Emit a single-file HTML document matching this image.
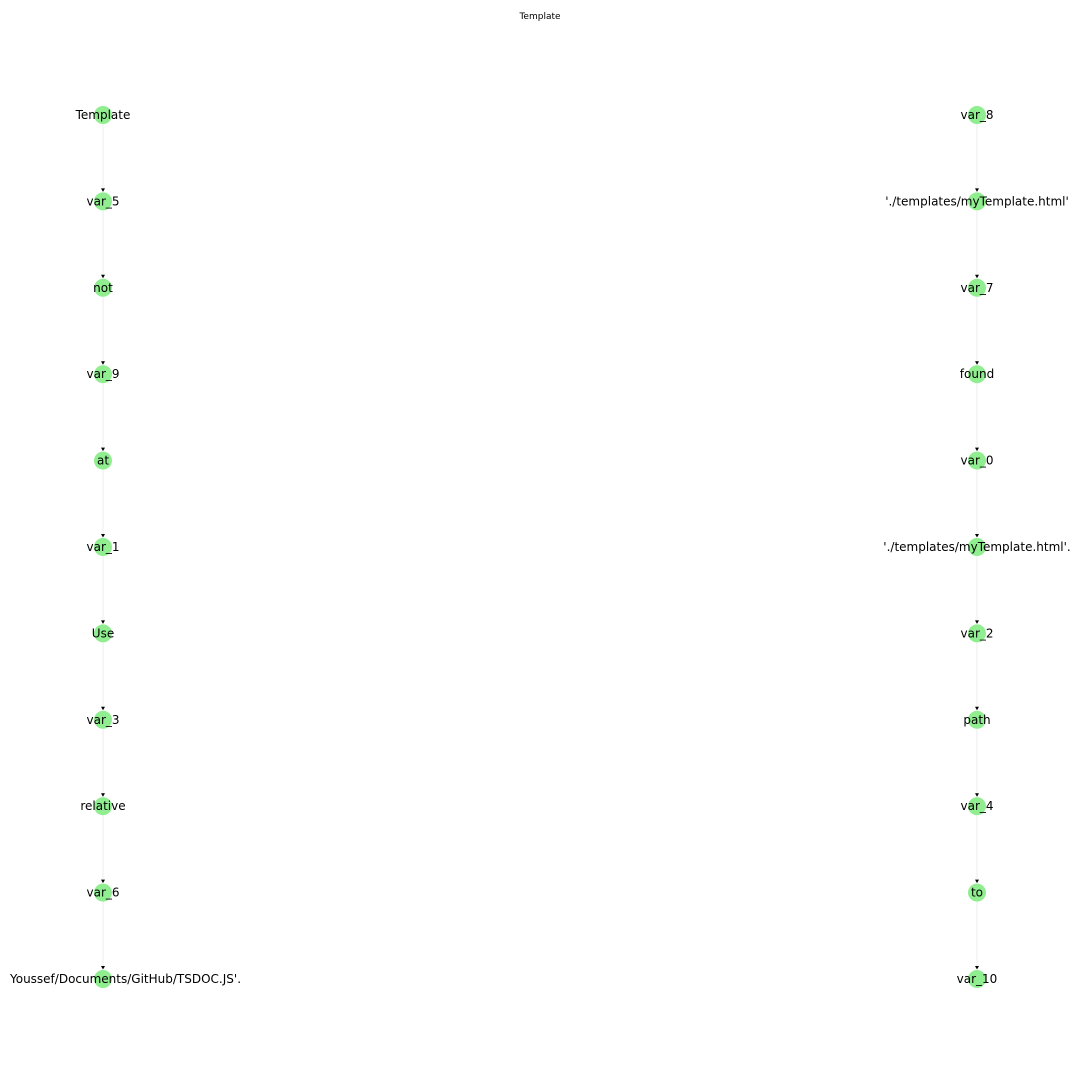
<!DOCTYPE html>
<html><head><meta charset="utf-8"><style>body{margin:0;background:#fff}svg{display:block}</style></head>
<body>
<svg id="chart" width="1080" height="1080" xmlns="http://www.w3.org/2000/svg" font-family="DejaVu Sans, sans-serif">
<defs><clipPath id="clip"><rect x="10" y="0" width="1070" height="1080"/></clipPath></defs>
<text x="540" y="19" font-size="9" text-anchor="middle">Template</text>
<g id="g" clip-path="url(#clip)"></g>
</svg>
<script>
const leftChain = ["Template","var_5","not","var_9","at","var_1","Use","var_3","relative","var_6","'/Users/Youssef/Documents/GitHub/TSDOC.JS'."];
const rightChain = ["var_8","'./templates/myTemplate.html'","var_7","found","var_0","'./templates/myTemplate.html'.","var_2","path","var_4","to","var_10"];
const columnX = [103, 977];
const y0 = 115, step = 86.4;
const g = document.getElementById('g');
const NS = 'http://www.w3.org/2000/svg';
function mk(t, a){const e=document.createElementNS(NS,t);for(const k in a)e.setAttribute(k,a[k]);g.appendChild(e);return e;}
[leftChain, rightChain].forEach((chain, ci) => {
  const x = columnX[ci];
  for (let i = 0; i < chain.length - 1; i++) {
    const ya = y0 + i*step, yb = y0 + (i+1)*step;
    const l = mk('line',{x1:x,y1:ya,x2:x,y2:yb-10,stroke:'#eeeeee','stroke-width':1});
    
    
    const a = mk('path',{d:`M${x-2},${yb-13} L${x+2},${yb-13} L${x},${yb-9.5} Z`,fill:'#000'});
    
    
  }
  chain.forEach((lab, i) => {
    const y = y0 + i*step;
    const c = mk('circle',{cx:x,cy:y,r:9,fill:'#90ee90'});
    
    
    const t = mk('text',{x:x,y:y+4,'font-size':12,'text-anchor':'middle',fill:'#000'});
    t.textContent = lab;
    
    
  });
});
</script>
</body></html>
